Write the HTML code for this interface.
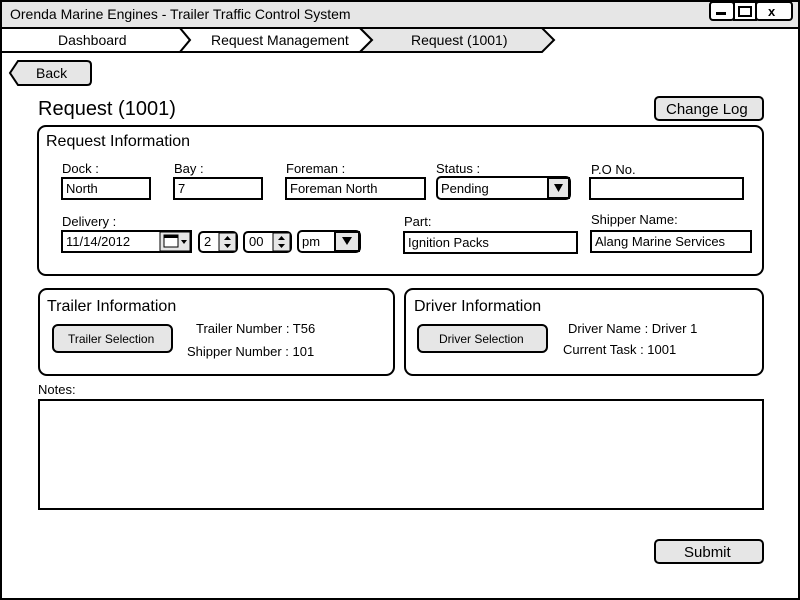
<!DOCTYPE html>
<html><head><meta charset="utf-8"><style>
html,body{margin:0;padding:0;background:#fff;}
svg{display:block;}
text{font-family:"Liberation Sans",sans-serif;fill:#000;}
</style></head><body>
<svg width="800" height="600" viewBox="0 0 800 600" xmlns="http://www.w3.org/2000/svg">
<rect x="1" y="1" width="798" height="598" fill="#fff" stroke="#000" stroke-width="2"/>
<rect x="1" y="1" width="798" height="27" fill="#e6e6e6" stroke="#000" stroke-width="2"/>
<text x="10" y="19" font-size="14">Orenda Marine Engines - Trailer Traffic Control System</text>
<rect x="710" y="2" width="24" height="18" rx="3" fill="#fff" stroke="#000" stroke-width="2"/>
<rect x="716" y="12" width="10" height="3" fill="#000"/>
<rect x="734" y="2" width="22" height="18" fill="#fff" stroke="#000" stroke-width="2"/>
<rect x="739" y="7" width="12" height="9" fill="none" stroke="#000" stroke-width="2"/>
<rect x="756" y="2" width="36" height="18" rx="3" fill="#fff" stroke="#000" stroke-width="2"/>
<text x="768" y="16" font-size="13" font-weight="bold">x</text>
<!-- breadcrumb -->
<path d="M1 28 L180 28 L190 40 L180 52 L1 52 Z" fill="#fff" stroke="#000" stroke-width="2"/>
<path d="M180 28 L360 28 L372 40 L360 52 L180 52 L190 40 Z" fill="#fff" stroke="#000" stroke-width="2"/>
<path d="M360 28 L542 28 L554 40 L542 52 L360 52 L372 40 Z" fill="#e6e6e6" stroke="#000" stroke-width="2"/>
<text x="58" y="45" font-size="14">Dashboard</text>
<text x="211" y="45" font-size="14">Request Management</text>
<text x="411" y="45" font-size="14">Request (1001)</text>
<!-- back -->
<path d="M18 61 L87 61 Q91 61 91 65 L91 81 Q91 85 87 85 L18 85 L10 73 Z" fill="#e6e6e6" stroke="#000" stroke-width="2"/>
<text x="36" y="78" font-size="14">Back</text>
<text x="38" y="115" font-size="20">Request (1001)</text>
<rect x="655" y="97" width="108" height="23" rx="4" fill="#e6e6e6" stroke="#000" stroke-width="2"/>
<text x="666" y="114" font-size="15">Change Log</text>
<!-- request info -->
<rect x="38" y="126" width="725" height="149" rx="8" fill="#fff" stroke="#000" stroke-width="2"/>
<text x="46" y="146" font-size="16">Request Information</text>
<g font-size="13">
<text x="62" y="173">Dock :</text><text x="174" y="173">Bay :</text><text x="286" y="173">Foreman :</text>
<text x="436" y="173">Status :</text><text x="591" y="174">P.O No.</text>
<text x="62" y="226">Delivery :</text><text x="404" y="226">Part:</text><text x="591" y="224">Shipper Name:</text>
</g>
<g fill="#fff" stroke="#000" stroke-width="2">
<rect x="62" y="178" width="88" height="21"/><rect x="174" y="178" width="88" height="21"/>
<rect x="286" y="178" width="139" height="21"/><rect x="590" y="178" width="153" height="21"/>
<rect x="404" y="232" width="173" height="21"/><rect x="591" y="231" width="160" height="21"/>
<rect x="62" y="231" width="129" height="21"/>
</g>
<rect x="437" y="177" width="133" height="22" rx="4" fill="#fff" stroke="#000" stroke-width="2"/>
<path d="M548 178 L569 178 L569 198 L548 198 Z" fill="#e6e6e6" stroke="#000" stroke-width="2"/>
<path d="M554 184 L563 184 L558.5 192 Z" fill="#000"/>
<rect x="160" y="232" width="30" height="19" fill="#e6e6e6" stroke="#000" stroke-width="1"/>
<rect x="164" y="235" width="14" height="12" fill="#fff" stroke="#000" stroke-width="1"/>
<rect x="164" y="235" width="14" height="3" fill="#000"/>
<path d="M181 240 L187 240 L184 244 Z" fill="#000"/>
<rect x="199" y="232" width="38" height="20" rx="4" fill="#fff" stroke="#000" stroke-width="2"/>
<rect x="219" y="233" width="17" height="18" fill="#e6e6e6" stroke="#000" stroke-width="1"/>
<rect x="244" y="232" width="47" height="20" rx="4" fill="#fff" stroke="#000" stroke-width="2"/>
<rect x="273" y="233" width="17" height="18" fill="#e6e6e6" stroke="#000" stroke-width="1"/>
<path d="M224 240 L231 240 L227.5 236 Z M224 244 L231 244 L227.5 248 Z M278 240 L285 240 L281.5 236 Z M278 244 L285 244 L281.5 248 Z" fill="#000"/>
<rect x="298" y="231" width="62" height="21" rx="4" fill="#fff" stroke="#000" stroke-width="2"/>
<path d="M335 232 L359 232 L359 251 L335 251 Z" fill="#e6e6e6" stroke="#000" stroke-width="2"/>
<path d="M342 237 L352 237 L347 245 Z" fill="#000"/>
<g font-size="13">
<text x="66" y="193">North</text><text x="178" y="193">7</text><text x="290" y="193">Foreman North</text>
<text x="441" y="193">Pending</text>
<text x="66" y="246">11/14/2012</text><text x="204" y="246">2</text><text x="249" y="246">00</text><text x="302" y="246">pm</text>
<text x="408" y="247">Ignition Packs</text><text x="595" y="246">Alang Marine Services</text>
</g>
<!-- trailer -->
<rect x="39" y="289" width="355" height="86" rx="8" fill="#fff" stroke="#000" stroke-width="2"/>
<text x="47" y="311" font-size="16">Trailer Information</text>
<rect x="53" y="325" width="119" height="27" rx="5" fill="#e6e6e6" stroke="#000" stroke-width="2"/>
<text x="68" y="343" font-size="12">Trailer Selection</text>
<text x="196" y="333" font-size="13">Trailer Number :  T56</text>
<text x="187" y="356" font-size="13">Shipper Number :  101</text>
<!-- driver -->
<rect x="405" y="289" width="358" height="86" rx="8" fill="#fff" stroke="#000" stroke-width="2"/>
<text x="414" y="311" font-size="16">Driver Information</text>
<rect x="418" y="325" width="129" height="27" rx="5" fill="#e6e6e6" stroke="#000" stroke-width="2"/>
<text x="439" y="343" font-size="12">Driver Selection</text>
<text x="568" y="333" font-size="13">Driver Name :  Driver 1</text>
<text x="563" y="354" font-size="13">Current Task :  1001</text>
<!-- notes -->
<text x="38" y="394" font-size="13">Notes:</text>
<rect x="39" y="400" width="724" height="109" fill="#fff" stroke="#000" stroke-width="2"/>
<rect x="655" y="540" width="108" height="23" rx="4" fill="#e6e6e6" stroke="#000" stroke-width="2"/>
<text x="684" y="557" font-size="15">Submit</text>
</svg>
</body></html>
